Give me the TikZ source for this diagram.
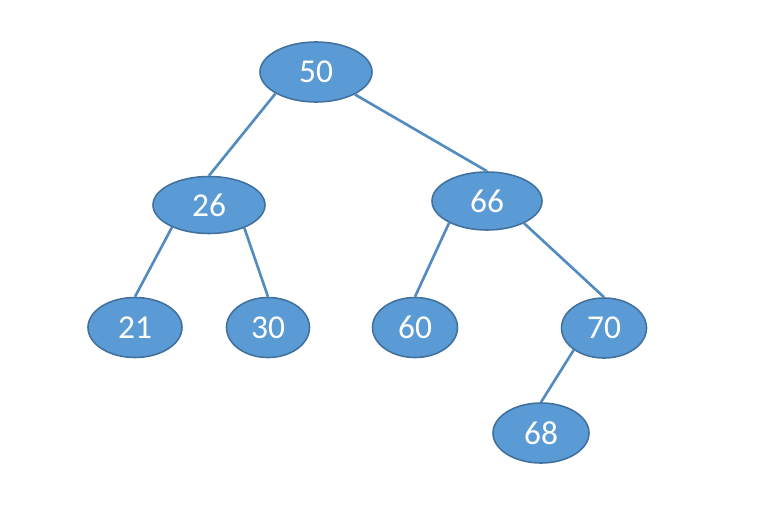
\documentclass[tikz,border=0pt]{standalone}
\usepackage{fontspec}
\setmainfont{Carlito}
\usetikzlibrary{shapes.geometric,positioning}
\definecolor{nblue}{RGB}{91, 155, 213}
\definecolor{dblue}{RGB}{65, 113, 156}
\tikzstyle{keynode} = [ellipse, draw=dblue, fill=nblue, line width=0.9pt,
  text=white, inner sep=0pt, minimum height=1.2cm,
  font=\fontsize{19}{22}\selectfont]
\tikzstyle{branch} = [draw, line width=1.5pt, color=nblue!90!black]

\begin{document}
\begin{tikzpicture}

  \useasboundingbox (0,0) rectangle (15.16,-10.54);

  %%%%%%%%%%%%%%%%%%%%%%%%%%%%%%%%%%%%%%%%%%%%%%%%%%%%%%%%%%%%%%
  %                    KEYS                                    %
  %%%%%%%%%%%%%%%%%%%%%%%%%%%%%%%%%%%%%%%%%%%%%%%%%%%%%%%%%%%%%%

  \node [keynode, minimum width=2.24cm] (k50) at (6.32,-1.44) {50};
  \node [keynode, minimum width=2.24cm, minimum height=1.14cm] (k26) at (4.18,-4.10) {26};
  \node [keynode, minimum width=2.20cm, minimum height=1.16cm] (k66) at (9.74,-4.02) {66};
  \node [keynode, minimum width=1.88cm] (k21) at (2.70,-6.55) {21};
  \node [keynode, minimum width=1.66cm] (k30) at (5.36,-6.55) {30};
  \node [keynode, minimum width=1.70cm] (k60) at (8.30,-6.55) {60};
  \node [keynode, minimum width=1.70cm] (k70) at (12.08,-6.56) {70};
  \node [keynode, minimum width=1.92cm] (k68) at (10.82,-8.66) {68};

  %%%%%%%%%%%%%%%%%%%%%%%%%%%%%%%%%%%%%%%%%%%%%%%%%%%%%%%%%%%%%%
  %                    BRANCHES                                %
  %%%%%%%%%%%%%%%%%%%%%%%%%%%%%%%%%%%%%%%%%%%%%%%%%%%%%%%%%%%%%%

  \draw[branch] (k50.208) -- (k26.north);
  \draw[branch] (k50.330) -- (k66.north);
  \draw[branch] (k26.211) -- (k21.north);
  \draw[branch] (k26.327) -- (k30.north);
  \draw[branch] (k66.210) -- (k60.north);
  \draw[branch] (k66.329) -- (k70.north);
  \draw[branch] (k70.216) -- (k68.north);

\end{tikzpicture}
\end{document}
